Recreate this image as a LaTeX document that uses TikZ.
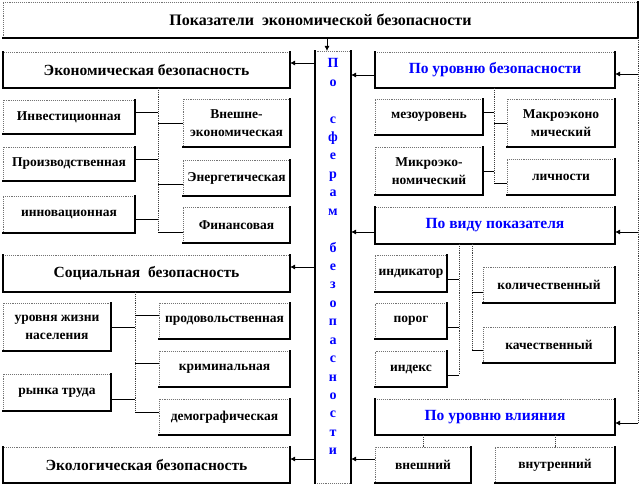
\documentclass[tikz,border=0pt]{standalone}
\usepackage{fontspec}
\setmainfont{Liberation Serif}
\usetikzlibrary{arrows.meta}
\newcommand\mybox[7]{\node[#6, minimum width={#4-#2}, minimum height={#5-#3}] (#1) at (#2,#3) {#7};}
\begin{document}
\begin{tikzpicture}[x=1pt,y=-1pt,
  box/.style={draw=black!55, densely dotted, line width=0.9pt, inner sep=1pt, outer sep=0pt,
    align=center, anchor=north west, font=\bfseries\fontsize{13.5}{18}\selectfont},
  hbox/.style={box, font=\bfseries\fontsize{15.5}{17}\selectfont},
  blu/.style={text=blue},
  solidedge/.style={line width=1.4pt, black, line cap=rect},
  bus/.style={densely dotted, line width=0.9pt, black!75},
  conn/.style={line width=0.8pt, black},
  arr/.style={conn, -{Latex[length=5pt,width=5pt]}},
  letter/.style={anchor=base, text=blue, inner sep=0pt, font=\bfseries\fontsize{14}{14}\selectfont},
]
\useasboundingbox (0,0) rectangle (642,486);
% top
\mybox{top}{3}{2}{638}{38}{hbox, font=\bfseries\fontsize{16}{18}\selectfont}{Показатели\ \ экономической безопасности}
% vertical box
\mybox{vert}{315}{51}{351}{483}{box}{}
\foreach \l [count=\i] in {П,о,{},с,ф,е,р,а,м,{},б,е,з,о,п,а,с,н,о,с,т,и}
  \node[letter] (l\i) at (333,{63+4.8+(\i-1)*18.43}) {\l};
% left column
\mybox{E1}{3}{52}{290}{88}{hbox}{Экономическая безопасность}
\mybox{inv}{3}{100}{135}{134}{box}{Инвестиционная}
\mybox{prod}{3}{147}{135}{181}{box}{Производственная}
\mybox{innov}{3}{196}{135}{233}{box}{инновационная}
\mybox{vnesh}{183}{99}{290}{147}{box}{Внешне-\\экономическая}
\mybox{energ}{183}{160}{290}{196}{box}{Энергетическая}
\mybox{fin}{183}{207}{290}{243}{box}{Финансовая}
\mybox{S1}{3}{255}{290}{292}{hbox}{Социальная\ \ безопасность}
\mybox{ur}{3}{303}{111}{351}{box}{уровня жизни\\населения}
\mybox{rt}{3}{374}{111}{411}{box}{рынка труда}
\mybox{prodov}{159}{303}{290}{339}{box}{продовольственная}
\mybox{krim}{159}{351}{290}{387}{box}{криминальная}
\mybox{demo}{159}{399}{290}{435}{box}{демографическая}
\mybox{Ec}{3}{447}{290}{483}{hbox}{Экологическая безопасность}
% right column
\mybox{R1}{375}{52}{615}{88}{hbox,blu}{По уровню безопасности}
\mybox{mezo}{375}{99}{483}{135}{box}{мезоуровень}
\mybox{mikro}{375}{147}{483}{195}{box}{Микроэко-\\номический}
\mybox{makro}{507}{99}{615}{147}{box}{Макроэконо\\мический}
\mybox{lich}{507}{159}{615}{195}{box}{личности}
\mybox{R2}{375}{207}{615}{244}{hbox,blu}{По виду показателя}
\mybox{ind}{375}{255}{447}{292}{box}{индикатор}
\mybox{porog}{375}{303}{447}{339}{box}{порог}
\mybox{index}{375}{351}{447}{387}{box}{индекс}
\mybox{kol}{483}{267}{615}{303}{box}{количественный}
\mybox{kach}{483}{327}{615}{363}{box}{качественный}
\mybox{R3}{375}{399}{615}{435}{hbox,blu}{По уровню влияния}
\mybox{vn}{375}{447}{471}{483}{box}{внешний}
\mybox{vt}{495}{447}{615}{483}{box}{внутренний}
% solid edges
\foreach \n in {top,inv,prod,innov,vnesh,energ,fin,ur,rt,prodov,krim,demo,mezo,mikro,makro,lich,ind,porog,index,kol,kach,vn,vt}
  \draw[solidedge] (\n.north east) -- (\n.south east) -- (\n.south west);
\foreach \n in {E1,S1,Ec,R1,R2,R3}
  \draw[solidedge] (\n.north west) -- (\n.south west) -- (\n.south east) -- (\n.north east);
\draw[solidedge] (vert.north west) -- (vert.south west);
\draw[solidedge] (vert.north east) -- (vert.south east);
% top arrow
\draw[arr] ([xshift=-6pt]vert.north |- top.south) -- ([xshift=-6pt]vert.north);
% arrows from vertical box
\draw[arr] (vert.west |- 0,63) -- (E1.east |- 0,63);
\draw[arr] (vert.west |- 0,267) -- (S1.east |- 0,267);
\draw[arr] (vert.west |- 0,459) -- (Ec.east |- 0,459);
\draw[arr] (R1.west |- 0,75) -- (vert.east |- 0,75);
\draw[arr] (R2.west |- 0,232) -- (vert.east |- 0,232);
\draw[arr] (vn.west |- 0,459) -- (vert.east |- 0,459);
% right line
\coordinate (rl) at (638,423);
\draw[bus] (top.south east) -- (rl);
\draw[arr] (rl |- 0,74) -- (R1.east |- 0,74);
\draw[arr] (rl |- 0,232) -- (R2.east |- 0,232);
\draw[arr] (rl) -- (R3.east |- rl);
% economic group
\coordinate (eb) at (158,232);
\draw[bus] (E1.south -| eb) -- (eb);
\draw[conn] (inv.east |- 0,112) -- (eb |- 0,112);
\draw[conn] (prod.east |- 0,159) -- (eb |- 0,159);
\draw[conn] (innov.east |- 0,219) -- (eb |- 0,219);
\draw[conn] (vnesh.west |- 0,123) -- (eb |- 0,123);
\draw[conn] (energ.west |- 0,184) -- (eb |- 0,184);
\draw[conn] (fin.west |- eb) -- (eb);
% social group
\coordinate (sb) at (135,412);
\draw[bus] (S1.south -| sb) -- (sb);
\draw[conn] (ur.east |- 0,327) -- (sb |- 0,327);
\draw[conn] (rt.east |- 0,399) -- (sb |- 0,399);
\draw[conn] (prodov.west |- 0,315) -- (sb |- 0,315);
\draw[conn] (krim.west |- 0,363) -- (sb |- 0,363);
\draw[conn] (demo.west |- sb) -- (sb);
% level group
\coordinate (rb) at (494,183);
\draw[bus] (R1.south -| rb) -- (rb);
\draw[conn] (mezo.east |- 0,112) -- (rb |- 0,112);
\draw[conn] (mikro.east |- 0,171) -- (rb |- 0,171);
\draw[conn] (makro.west |- 0,123) -- (rb |- 0,123);
\draw[conn] (lich.west |- rb) -- (rb);
% indicator group
\coordinate (vb1) at (459,375);
\coordinate (vb2) at (472,350);
\draw[bus] (R2.south -| vb1) -- (vb1);
\draw[bus] (R2.south -| vb2) -- (vb2);
\draw[conn] (ind.east |- 0,279) -- (vb1 |- 0,279);
\draw[conn] (porog.east |- 0,327) -- (vb1 |- 0,327);
\draw[conn] (index.east |- vb1) -- (vb1);
\draw[conn] (kol.west |- 0,292) -- (vb2 |- 0,292);
\draw[conn] (kach.west |- vb2) -- (vb2);
% influence group
\draw[bus] (R3.south -| vn.north) -- (vn.north);
\draw[bus] (R3.south -| vt.north) -- (vt.north);
\end{tikzpicture}
\end{document}
